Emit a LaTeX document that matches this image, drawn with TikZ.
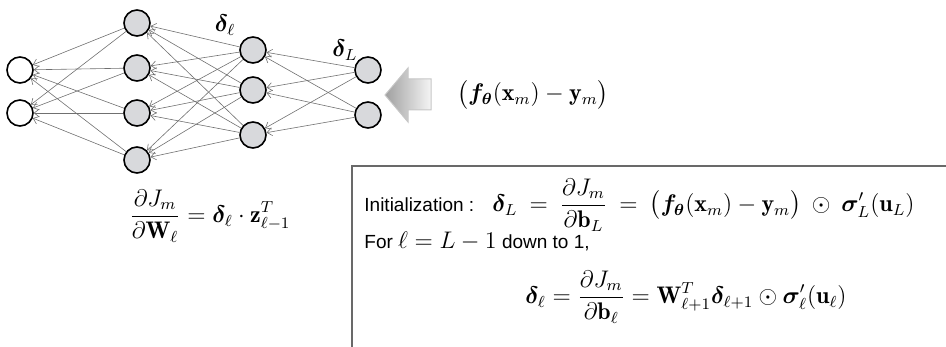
\documentclass[tikz,border=0pt]{standalone}
\usepackage{amsmath,amssymb,bm}
\usepackage{fontspec}
\setsansfont{Liberation Sans}
\usetikzlibrary{arrows.meta,positioning}
\definecolor{wireGray}{RGB}{112,112,112}
\definecolor{unitGray}{RGB}{216,217,220}
\definecolor{boxRule}{RGB}{105,105,105}

\tikzset{
  inunit/.style={circle, draw=black, line width=0.8pt, fill=white, minimum size=13pt, inner sep=0pt},
  unit/.style={inunit, fill=unitGray},
  wire/.style={draw=wireGray, line width=0.3pt, -{Straight Barb[length=2.5pt,width=4pt]}},
  mathlbl/.style={font=\fontsize{12}{14}\selectfont, inner sep=0pt},
  txtlbl/.style={font=\sffamily\fontsize{9.5}{12}\selectfont, inner sep=0pt},
}

\begin{document}
\begin{tikzpicture}[x=0.5pt,y=-0.5pt]
\useasboundingbox (0,0) rectangle (946,347);

% layers, input on the left
\foreach \i/\y in {1/70,2/113} \node[inunit] (a\i) at (20,\y) {};
\foreach \i/\y in {1/23,2/68,3/113,4/160} \node[unit] (b\i) at (137,\y) {};
\foreach \i/\y in {1/50,2/90,3/135} \node[unit] (c\i) at (253,\y) {};
\foreach \i/\y in {1/70,2/115} \node[unit] (d\i) at (368,\y) {};

% backward connections
\foreach \i in {1,2} \foreach \j in {1,2,3} \draw[wire] (d\i) -- (c\j);
\foreach \i in {1,2,3} \foreach \j in {1,...,4} \draw[wire] (c\i) -- (b\j);
\foreach \i in {1,...,4} \foreach \j in {1,2} \draw[wire] (b\i) -- (a\j);

% error coming in
\shade[left color=gray!75, right color=gray!8, draw=gray!45, line width=0.5pt]
  (385,95) -- (408,68) -- (408,79) -- (431,79) -- (431,110) -- (408,110) -- (408,122) -- cycle;
\node[mathlbl] (err) at (533,95) {$\bigl(\bm{f}_{\bm{\theta}}(\mathbf{x}_m)-\mathbf{y}_m\bigr)$};

\node[mathlbl] (dlt) at (225,25) {$\bm{\delta}_\ell$};
\node[mathlbl] (dltL) at (345,50) {$\bm{\delta}_L$};
\node[mathlbl] (dW) at (210,216) {$\displaystyle\frac{\partial J_m}{\partial\mathbf{W}_\ell}=\bm{\delta}_\ell\cdot\mathbf{z}_{\ell-1}^T$};

% recursion box
\draw[boxRule, line width=0.6pt] (352,347) |- (946,166);
\node[mathlbl, anchor=west] (rootL) at (492,205) {$\displaystyle\bm{\delta}_L\:=\:\frac{\partial J_m}{\partial\mathbf{b}_L}\:=\:\bigl(\bm{f}_{\bm{\theta}}(\mathbf{x}_m)-\mathbf{y}_m\bigr)\:\odot\:\bm{\sigma}'_L(\mathbf{u}_L)$};
\node[txtlbl, anchor=base west] (init) at (364,0 |- rootL.base) {Initialization :};
\node[txtlbl, anchor=base west] (forline) at (364,248) {For {\fontsize{12}{14}\selectfont$\ell=L-1$} down to 1,};
\node[mathlbl] (rootl) at (686,297) {$\displaystyle\bm{\delta}_\ell=\frac{\partial J_m}{\partial\mathbf{b}_\ell}=\mathbf{W}_{\ell+1}^T\bm{\delta}_{\ell+1}\odot\bm{\sigma}'_\ell(\mathbf{u}_\ell)$};
\end{tikzpicture}
\end{document}
